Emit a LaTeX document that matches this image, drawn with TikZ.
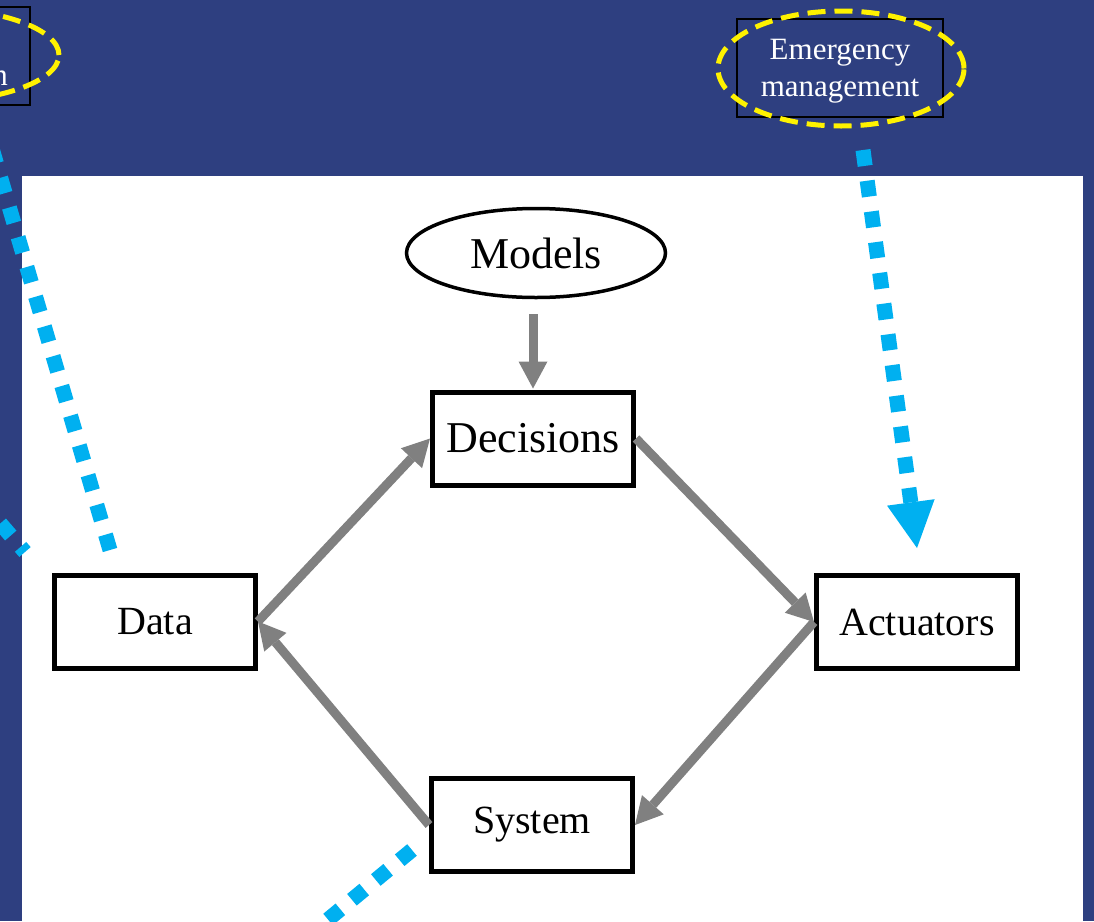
\documentclass[tikz,border=0pt]{standalone}
\usepackage{fontspec}
\setmainfont{Liberation Serif}
\usetikzlibrary{arrows.meta,shapes.geometric}
\definecolor{bgblue}{RGB}{46,63,128}
\definecolor{dotblue}{RGB}{0,176,240}
\definecolor{arrgray}{RGB}{128,128,128}
\begin{document}
\begin{tikzpicture}[x=1pt,y=-1pt,
  box/.style={draw=black, line width=5pt, fill=white, minimum width=201pt, minimum height=93pt, inner sep=0pt, font=\fontsize{40}{48}\selectfont},
  flow/.style={draw=arrgray, line width=9pt, -{Triangle[length=27pt,width=29pt,line width=0pt]}},
  dotline/.style={draw=dotblue, line width=15pt, dash pattern=on 16pt off 15pt},
  tag/.style={draw=black, line width=2pt, minimum width=206pt, minimum height=98pt, inner sep=0pt},
  tagtext/.style={text=white, align=center, inner sep=0pt, font=\fontsize{31}{37}\selectfont},
  halo/.style={draw=yellow, line width=5pt, dash pattern=on 18pt off 9pt, ellipse, inner sep=0pt, minimum width=246pt, minimum height=115pt}
]
\useasboundingbox (0,0) rectangle (1094,921);
\clip (0,0) rectangle (1094,921);
\fill[bgblue] (0,0) rectangle (1094,921);
\fill[white] (22,176) rectangle (1083,921);

% tags on the blue background
\node[tag] (lefttag) at (-73,56) {};
\node[tagtext, anchor=base east] (lefttext) at (8,85) {n};
\node[halo, minimum width=262pt, minimum height=94pt] (lefthalo) at (-72,55) {};

\node[tag] (emtag) at (840,68) {};
\node[tagtext] (emtext) at (840,71.5) {Emergency\\management};
\node[halo] (emhalo) at (841,68.5) {};

% main diagram
\node[draw=black, line width=3.5pt, fill=white, ellipse, inner sep=0pt, minimum width=259pt, minimum height=89pt, font=\fontsize{44}{52}\selectfont] (models) at (536,253) {Models};
\node[box, font=\fontsize{44}{52}\selectfont] (decisions) at (533,438.5) {Decisions};
\node[box] (data) at (155,621.5) {Data};
\node[box] (actuators) at (917,622) {Actuators};
\node[box] (system) at (532,825) {System};

\draw[flow, shorten <=15pt, shorten >=1pt] (decisions.north |- models.south) -- (decisions.north);
\draw[flow] (data.east) -- (decisions.west);
\draw[flow] (decisions.east) -- (actuators.west);
\draw[flow] (actuators.west) -- (system.east);
\draw[flow] (system.west) -- (data.east);

% blue dotted connectors
\coordinate (datasrc) at (110,550);
\coordinate (lefttop) at (-24,94);
\draw[dotline] (datasrc) -- (lefttop);

\coordinate (emsrc) at (863,150);
\coordinate (emdst) at (917,548);
\draw[dotline, -{Triangle[length=46pt,width=48pt,line width=0pt]}] (emsrc) -- (emdst);

\coordinate (leftmidA) at (-20,500);
\coordinate (leftmidB) at (25,552);
\draw[dotline] (leftmidA) -- (leftmidB);

\coordinate (syssrc) at (412,850);
\coordinate (sysdst) at (290,951);
\draw[dotline] (syssrc) -- (sysdst);
\end{tikzpicture}
\end{document}
